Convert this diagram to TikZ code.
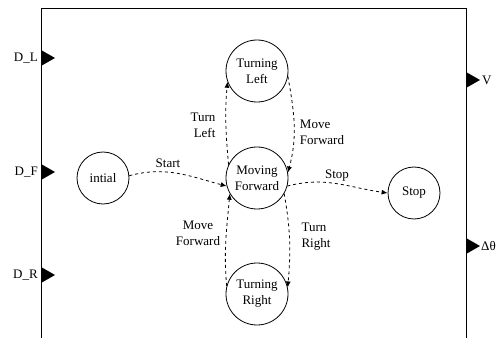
\documentclass[tikz,border=0pt]{standalone}
\usepackage{fontspec}
\setmainfont{Liberation Serif}
\usetikzlibrary{arrows.meta}

\tikzset{
  state/.style={draw, circle, line width=0.8pt, minimum size=62pt, inner sep=0pt, align=center},
  smallstate/.style={state, minimum size=52pt},
  trans/.style={-{Latex[length=6pt,width=5pt]}, dashed, line width=0.8pt},
  port/.style={fill=black},
  lbl/.style={font=\fontsize{13}{16}\selectfont, inner sep=1pt}
}

\begin{document}
\begin{tikzpicture}[x=1pt, y=1pt, font=\fontsize{13}{16}\selectfont]
    \useasboundingbox (0,0) rectangle (499,338);

    % --- BLOCCO ---
    \draw[line width=0.8pt] (41,-5) -- (41,330) -- (466,330) -- (466,-5);

    % Ingressi
    \fill[port] (41,288) -- (55,280) -- (41,272) -- cycle;
    \fill[port] (41,174) -- (55,166) -- (41,158) -- cycle;
    \fill[port] (41,71) -- (55,63) -- (41,55) -- cycle;
    \node[lbl, anchor=east] (dl) at (39,280) {D\_L};
    \node[lbl, anchor=east] (df) at (39,166) {D\_F};
    \node[lbl, anchor=east] (dr) at (39,63) {D\_R};

    % Uscite
    \fill[port] (466,266) -- (480,258) -- (466,250) -- cycle;
    \fill[port] (466,100) -- (480,92) -- (466,84) -- cycle;
    \node[lbl, anchor=west] (v) at (481,258) {V};
    \node[lbl, anchor=west] (dtheta) at (480,92) {Δθ};

    % --- STATI ---
    \node[smallstate] (init) at (103,160) {intial};
    \node[state] (mf) at (257,160) {Moving\\Forward};
    \node[state] (tl) at (257,267) {Turning\\Left};
    \node[state] (tr) at (257,44) {Turning\\Right};
    \node[smallstate] (stop) at (414,145) {Stop};

    % --- TRANSIZIONI ---
    \draw[trans] (init.5) to[out=15, in=165] (mf.195);
    \draw[trans] (mf.155) to[out=95, in=265] (tl.200);
    \draw[trans] (tl.350) to[out=280, in=75] (mf.10);
    \draw[trans] (mf.345) to[out=15, in=172] (stop.180);
    \draw[trans] (mf.330) to[out=280, in=85] (tr.12);
    \draw[trans] (tr.165) to[out=95, in=265] (mf.210);

    % Etichette
    \node[lbl] (lstart) at (168,175) {Start};
    \node[lbl, align=right] (lleft) at (203,213) {Turn\\Left};
    \node[lbl, align=left] (lfwd1) at (322,206) {Move\\Forward};
    \node[lbl] (lstop) at (337,162) {Stop};
    \node[lbl, align=left] (lright) at (316,101) {Turn\\Right};
    \node[lbl, align=center] (lfwd2) at (198,105) {Move\\Forward};

\end{tikzpicture}
\end{document}
